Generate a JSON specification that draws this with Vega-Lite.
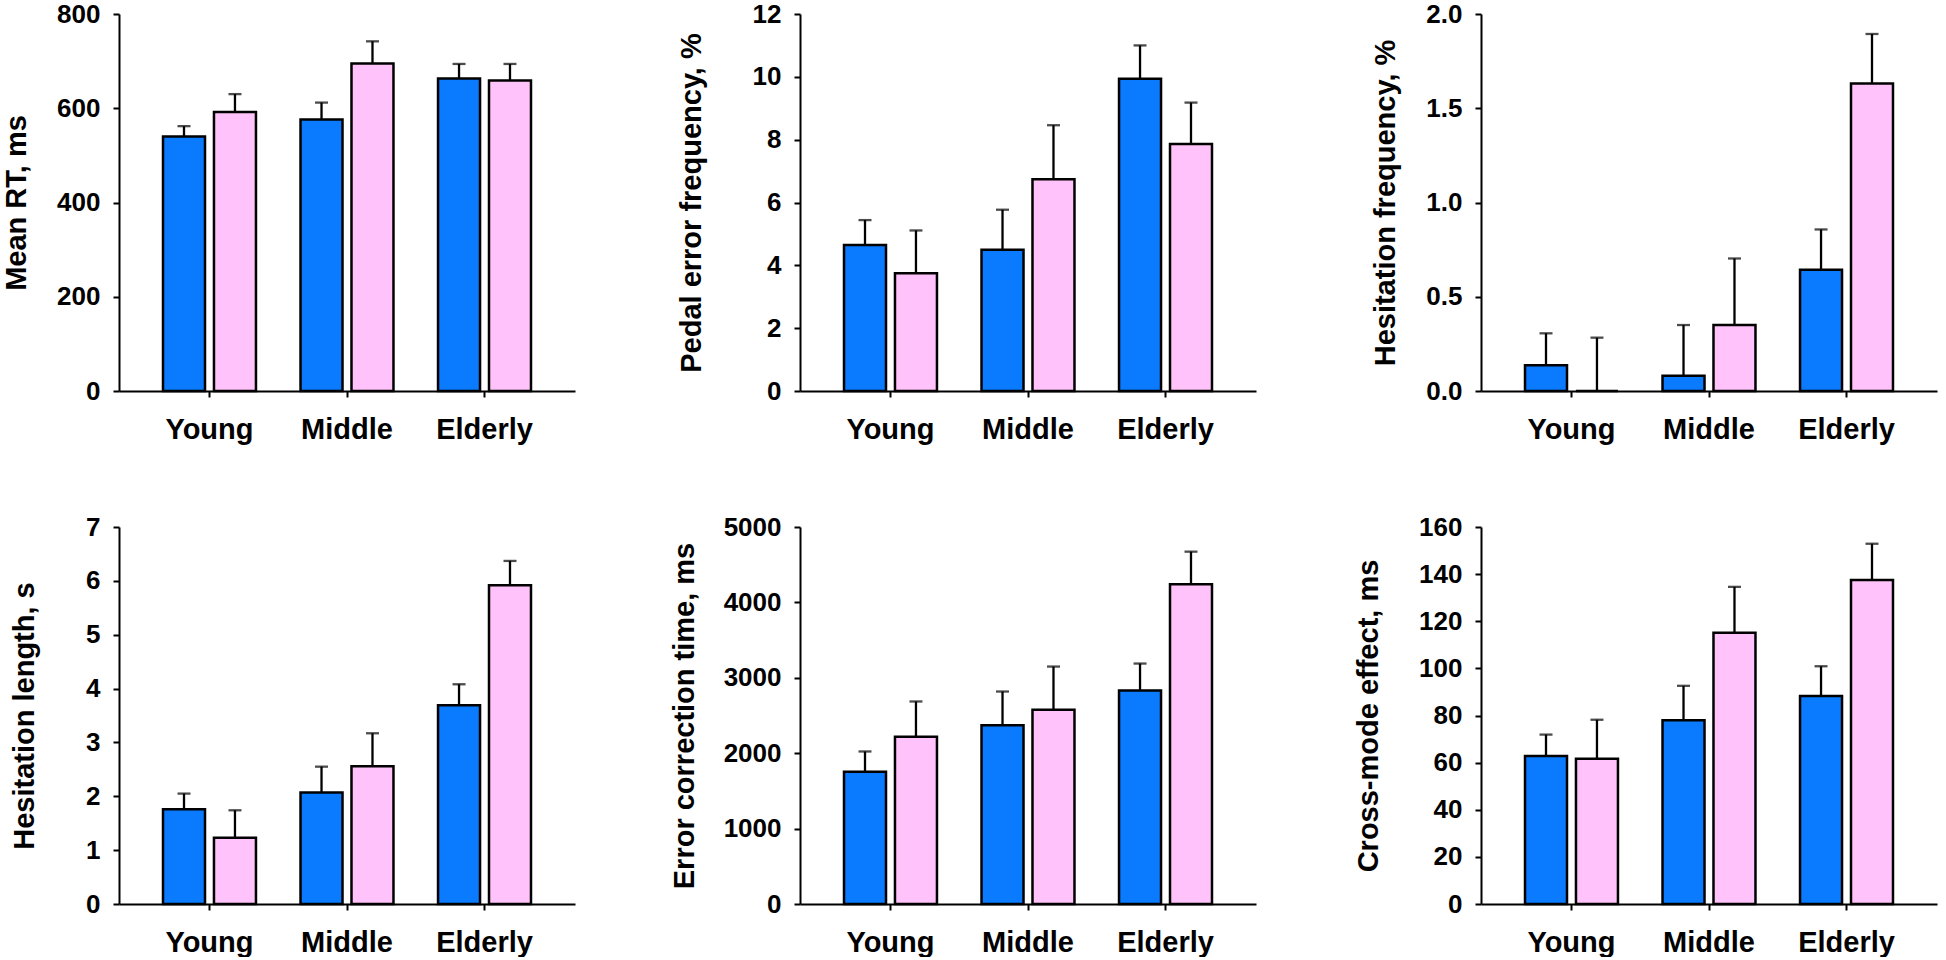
{
  "$schema": "https://vega.github.io/schema/vega-lite/v6.json",
  "background": "white",
  "padding": {"left": 2, "top": 1, "right": 2, "bottom": 0},
  "config": {
    "font": "Liberation Sans",
    "view": {"stroke": null},
    "axis": {
      "grid": false,
      "domainColor": "black",
      "domainWidth": 2,
      "tickColor": "black",
      "tickWidth": 2,
      "tickSize": 6,
      "labelFont": "Liberation Sans",
      "labelFontWeight": "bold",
      "labelFontSize": 26,
      "labelColor": "black",
      "titleFont": "Liberation Sans",
      "titleFontWeight": "bold",
      "titleFontSize": 29,
      "titleColor": "black"
    },
    "axisY": {"labelPadding": 13},
    "axisX": {"labelPadding": 18, "labelFontSize": 29, "labelAngle": 0}
  },
  "data": {
    "values": [
      {"panel": "rt", "age": "Young", "cond": "a", "value": 540, "err": 562},
      {"panel": "rt", "age": "Young", "cond": "b", "value": 592, "err": 630},
      {"panel": "rt", "age": "Middle", "cond": "a", "value": 576, "err": 612},
      {"panel": "rt", "age": "Middle", "cond": "b", "value": 695, "err": 742},
      {"panel": "rt", "age": "Elderly", "cond": "a", "value": 663, "err": 694},
      {"panel": "rt", "age": "Elderly", "cond": "b", "value": 659, "err": 694},
      {"panel": "pedal", "age": "Young", "cond": "a", "value": 4.65, "err": 5.44},
      {"panel": "pedal", "age": "Young", "cond": "b", "value": 3.75, "err": 5.11},
      {"panel": "pedal", "age": "Middle", "cond": "a", "value": 4.5, "err": 5.77},
      {"panel": "pedal", "age": "Middle", "cond": "b", "value": 6.74, "err": 8.46},
      {"panel": "pedal", "age": "Elderly", "cond": "a", "value": 9.94, "err": 11.0},
      {"panel": "pedal", "age": "Elderly", "cond": "b", "value": 7.86, "err": 9.18},
      {"panel": "hfreq", "age": "Young", "cond": "a", "value": 0.136, "err": 0.306},
      {"panel": "hfreq", "age": "Young", "cond": "b", "value": 0, "err": 0.283},
      {"panel": "hfreq", "age": "Middle", "cond": "a", "value": 0.081, "err": 0.35},
      {"panel": "hfreq", "age": "Middle", "cond": "b", "value": 0.35, "err": 0.703},
      {"panel": "hfreq", "age": "Elderly", "cond": "a", "value": 0.643, "err": 0.857},
      {"panel": "hfreq", "age": "Elderly", "cond": "b", "value": 1.631, "err": 1.894},
      {"panel": "hlen", "age": "Young", "cond": "a", "value": 1.76, "err": 2.05},
      {"panel": "hlen", "age": "Young", "cond": "b", "value": 1.23, "err": 1.74},
      {"panel": "hlen", "age": "Middle", "cond": "a", "value": 2.07, "err": 2.55},
      {"panel": "hlen", "age": "Middle", "cond": "b", "value": 2.56, "err": 3.17},
      {"panel": "hlen", "age": "Elderly", "cond": "a", "value": 3.69, "err": 4.08},
      {"panel": "hlen", "age": "Elderly", "cond": "b", "value": 5.92, "err": 6.37},
      {"panel": "ect", "age": "Young", "cond": "a", "value": 1754, "err": 2023},
      {"panel": "ect", "age": "Young", "cond": "b", "value": 2217, "err": 2686},
      {"panel": "ect", "age": "Middle", "cond": "a", "value": 2372, "err": 2818},
      {"panel": "ect", "age": "Middle", "cond": "b", "value": 2575, "err": 3149},
      {"panel": "ect", "age": "Elderly", "cond": "a", "value": 2831, "err": 3189},
      {"panel": "ect", "age": "Elderly", "cond": "b", "value": 4240, "err": 4673},
      {"panel": "cme", "age": "Young", "cond": "a", "value": 62.8, "err": 71.9},
      {"panel": "cme", "age": "Young", "cond": "b", "value": 61.6, "err": 78.2},
      {"panel": "cme", "age": "Middle", "cond": "a", "value": 78.0, "err": 92.6},
      {"panel": "cme", "age": "Middle", "cond": "b", "value": 115.1, "err": 134.6},
      {"panel": "cme", "age": "Elderly", "cond": "a", "value": 88.3, "err": 100.9},
      {"panel": "cme", "age": "Elderly", "cond": "b", "value": 137.5, "err": 152.9}
    ]
  },
  "columns": 3,
  "bounds": "flush",
  "spacing": {"column": 225, "row": 136},
  "concat": [
    {
      "width": 456, "height": 377,
      "transform": [{"filter": "datum.panel == 'rt'"}],
      "encoding": {
        "x": {"field": "age", "type": "nominal", "sort": ["Young", "Middle", "Elderly"], "scale": {"paddingInner": 0.324, "paddingOuter": 0.32}, "axis": {"title": null}},
        "xOffset": {"field": "cond", "type": "nominal", "scale": {"paddingInner": 0.176, "paddingOuter": 0}}
      },
      "layer": [
        {"mark": {"type": "rule", "color": "black", "strokeWidth": 2.3}, "encoding": {"y": {"field": "value", "type": "quantitative", "title": "Mean RT, ms", "scale": {"domain": [0, 800]}, "axis": {"values": [0, 200, 400, 600, 800], "format": "d", "titlePadding": 25}}, "y2": {"field": "err"}}},
        {"mark": {"type": "tick", "color": "black", "thickness": 2.3, "size": 13}, "encoding": {"y": {"field": "err", "type": "quantitative", "title": "Mean RT, ms"}}},
        {"mark": {"type": "bar", "stroke": "black", "strokeWidth": 2.5}, "encoding": {"y": {"field": "value", "type": "quantitative", "title": "Mean RT, ms"}, "color": {"field": "cond", "type": "nominal", "scale": {"domain": ["a", "b"], "range": ["#0A7BFF", "#FFC2FA"]}, "legend": null}}}
      ]
    },
    {
      "width": 456, "height": 377,
      "transform": [{"filter": "datum.panel == 'pedal'"}],
      "encoding": {
        "x": {"field": "age", "type": "nominal", "sort": ["Young", "Middle", "Elderly"], "scale": {"paddingInner": 0.324, "paddingOuter": 0.32}, "axis": {"title": null}},
        "xOffset": {"field": "cond", "type": "nominal", "scale": {"paddingInner": 0.176, "paddingOuter": 0}}
      },
      "layer": [
        {"mark": {"type": "rule", "color": "black", "strokeWidth": 2.3}, "encoding": {"y": {"field": "value", "type": "quantitative", "title": "Pedal error frequency, %", "scale": {"domain": [0, 12]}, "axis": {"values": [0, 2, 4, 6, 8, 10, 12], "format": "d", "titlePadding": 46}}, "y2": {"field": "err"}}},
        {"mark": {"type": "tick", "color": "black", "thickness": 2.3, "size": 13}, "encoding": {"y": {"field": "err", "type": "quantitative", "title": "Pedal error frequency, %"}}},
        {"mark": {"type": "bar", "stroke": "black", "strokeWidth": 2.5}, "encoding": {"y": {"field": "value", "type": "quantitative", "title": "Pedal error frequency, %"}, "color": {"field": "cond", "type": "nominal", "scale": {"domain": ["a", "b"], "range": ["#0A7BFF", "#FFC2FA"]}, "legend": null}}}
      ]
    },
    {
      "width": 456, "height": 377,
      "transform": [{"filter": "datum.panel == 'hfreq'"}],
      "encoding": {
        "x": {"field": "age", "type": "nominal", "sort": ["Young", "Middle", "Elderly"], "scale": {"paddingInner": 0.324, "paddingOuter": 0.32}, "axis": {"title": null}},
        "xOffset": {"field": "cond", "type": "nominal", "scale": {"paddingInner": 0.176, "paddingOuter": 0}}
      },
      "layer": [
        {"mark": {"type": "rule", "color": "black", "strokeWidth": 2.3}, "encoding": {"y": {"field": "value", "type": "quantitative", "title": "Hesitation frequency, %", "scale": {"domain": [0, 2]}, "axis": {"values": [0, 0.5, 1, 1.5, 2], "format": ".1f", "titlePadding": 25}}, "y2": {"field": "err"}}},
        {"mark": {"type": "tick", "color": "black", "thickness": 2.3, "size": 13}, "encoding": {"y": {"field": "err", "type": "quantitative", "title": "Hesitation frequency, %"}}},
        {"mark": {"type": "bar", "stroke": "black", "strokeWidth": 2.5}, "encoding": {"y": {"field": "value", "type": "quantitative", "title": "Hesitation frequency, %"}, "color": {"field": "cond", "type": "nominal", "scale": {"domain": ["a", "b"], "range": ["#0A7BFF", "#FFC2FA"]}, "legend": null}}}
      ]
    },
    {
      "width": 456, "height": 377,
      "transform": [{"filter": "datum.panel == 'hlen'"}],
      "encoding": {
        "x": {"field": "age", "type": "nominal", "sort": ["Young", "Middle", "Elderly"], "scale": {"paddingInner": 0.324, "paddingOuter": 0.32}, "axis": {"title": null}},
        "xOffset": {"field": "cond", "type": "nominal", "scale": {"paddingInner": 0.176, "paddingOuter": 0}}
      },
      "layer": [
        {"mark": {"type": "rule", "color": "black", "strokeWidth": 2.3}, "encoding": {"y": {"field": "value", "type": "quantitative", "title": "Hesitation length, s", "scale": {"domain": [0, 7]}, "axis": {"values": [0, 1, 2, 3, 4, 5, 6, 7], "format": "d", "titlePadding": 46}}, "y2": {"field": "err"}}},
        {"mark": {"type": "tick", "color": "black", "thickness": 2.3, "size": 13}, "encoding": {"y": {"field": "err", "type": "quantitative", "title": "Hesitation length, s"}}},
        {"mark": {"type": "bar", "stroke": "black", "strokeWidth": 2.5}, "encoding": {"y": {"field": "value", "type": "quantitative", "title": "Hesitation length, s"}, "color": {"field": "cond", "type": "nominal", "scale": {"domain": ["a", "b"], "range": ["#0A7BFF", "#FFC2FA"]}, "legend": null}}}
      ]
    },
    {
      "width": 456, "height": 377,
      "transform": [{"filter": "datum.panel == 'ect'"}],
      "encoding": {
        "x": {"field": "age", "type": "nominal", "sort": ["Young", "Middle", "Elderly"], "scale": {"paddingInner": 0.324, "paddingOuter": 0.32}, "axis": {"title": null}},
        "xOffset": {"field": "cond", "type": "nominal", "scale": {"paddingInner": 0.176, "paddingOuter": 0}}
      },
      "layer": [
        {"mark": {"type": "rule", "color": "black", "strokeWidth": 2.3}, "encoding": {"y": {"field": "value", "type": "quantitative", "title": "Error correction time, ms", "scale": {"domain": [0, 5000]}, "axis": {"values": [0, 1000, 2000, 3000, 4000, 5000], "format": "d", "titlePadding": 24}}, "y2": {"field": "err"}}},
        {"mark": {"type": "tick", "color": "black", "thickness": 2.3, "size": 13}, "encoding": {"y": {"field": "err", "type": "quantitative", "title": "Error correction time, ms"}}},
        {"mark": {"type": "bar", "stroke": "black", "strokeWidth": 2.5}, "encoding": {"y": {"field": "value", "type": "quantitative", "title": "Error correction time, ms"}, "color": {"field": "cond", "type": "nominal", "scale": {"domain": ["a", "b"], "range": ["#0A7BFF", "#FFC2FA"]}, "legend": null}}}
      ]
    },
    {
      "width": 456, "height": 377,
      "transform": [{"filter": "datum.panel == 'cme'"}],
      "encoding": {
        "x": {"field": "age", "type": "nominal", "sort": ["Young", "Middle", "Elderly"], "scale": {"paddingInner": 0.324, "paddingOuter": 0.32}, "axis": {"title": null}},
        "xOffset": {"field": "cond", "type": "nominal", "scale": {"paddingInner": 0.176, "paddingOuter": 0}}
      },
      "layer": [
        {"mark": {"type": "rule", "color": "black", "strokeWidth": 2.3}, "encoding": {"y": {"field": "value", "type": "quantitative", "title": "Cross-mode effect, ms", "scale": {"domain": [0, 160]}, "axis": {"values": [0, 20, 40, 60, 80, 100, 120, 140, 160], "format": "d", "titlePadding": 35}}, "y2": {"field": "err"}}},
        {"mark": {"type": "tick", "color": "black", "thickness": 2.3, "size": 13}, "encoding": {"y": {"field": "err", "type": "quantitative", "title": "Cross-mode effect, ms"}}},
        {"mark": {"type": "bar", "stroke": "black", "strokeWidth": 2.5}, "encoding": {"y": {"field": "value", "type": "quantitative", "title": "Cross-mode effect, ms"}, "color": {"field": "cond", "type": "nominal", "scale": {"domain": ["a", "b"], "range": ["#0A7BFF", "#FFC2FA"]}, "legend": null}}}
      ]
    }
  ]
}
